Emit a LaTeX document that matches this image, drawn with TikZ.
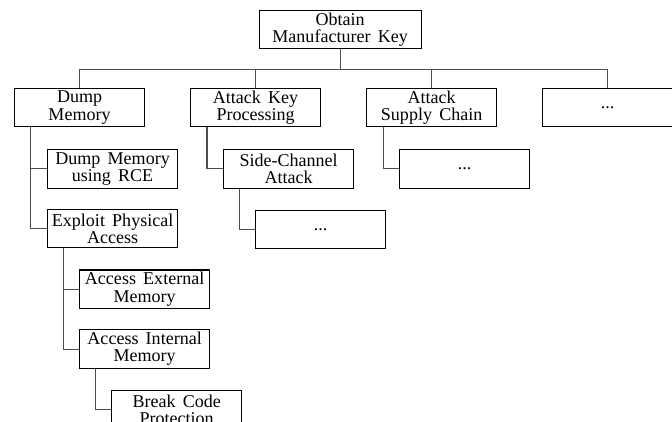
\documentclass[tikz,border=0pt]{standalone}
\usepackage{fontspec}
\setmainfont{Liberation Serif}[WordSpace=1.6]
\usepackage{tikz}
\usetikzlibrary{positioning,calc}

\begin{document}
\begin{tikzpicture}[node distance=12pt and 25.7pt,
  every node/.style={font=\fontsize{10.3}{9.8}\selectfont},
  box/.style={draw, line width=0.6pt, minimum width=74.3pt, minimum height=21.9pt, inner sep=1pt, align=center},
  link/.style={draw=black!70, line width=0.6pt}]
  % top goal and first level
  \node[box] (dump) {Dump\\Memory};
  \node[box, right=of dump] (akp) {Attack Key\\Processing};
  \node[box, right=of akp] (supply) {Attack\\Supply Chain};
  \node[box, right=of supply] (more) {...};
  \node[box, minimum width=92.6pt, above=22pt of $(akp.north)!0.5!(supply.north)$, xshift=-2pt] (root) {Obtain\\Manufacturer Key};
  \foreach \n in {dump,akp,supply,more}
    \draw[link] (root.south) -- ++(0,-11.4pt) -| (\n.north);
  % dump memory branch
  \node[box, below=12.6pt of dump.south west, anchor=north west, xshift=18.9pt] (rce) {Dump Memory\\using RCE};
  \node[box, below=11.7pt of rce] (phys) {Exploit Physical\\Access};
  \node[box, below=12pt of phys.south west, anchor=north west, xshift=18.3pt] (ext) {Access External\\Memory};
  \node[box, below=11.7pt of ext] (int) {Access Internal\\Memory};
  \node[box, below=12.3pt of int.south west, anchor=north west, xshift=18.3pt] (code) {Break Code\\Protection};
  \draw[link] ($(dump.south west)+(9.7pt,0)$) |- (rce.west);
  \draw[link] ($(dump.south west)+(9.7pt,0)$) |- (phys.west);
  \draw[link] ($(phys.south west)+(9.2pt,0)$) |- (ext.west);
  \draw[link] ($(phys.south west)+(9.2pt,0)$) |- (int.west);
  \draw[link] ($(int.south west)+(9.2pt,0)$) |- (code.west);
  % key processing branch
  \node[box, below=12.6pt of akp.south west, anchor=north west, xshift=18.9pt] (side) {Side-Channel\\Attack};
  \node[box, below=12pt of side.south west, anchor=north west, xshift=18.3pt] (sidemore) {...};
  \draw[link] ($(akp.south west)+(9.7pt,0)$) |- (side.west);
  \draw[link] ($(side.south west)+(9.2pt,0)$) |- (sidemore.west);
  % supply chain branch
  \node[box, below=12.6pt of supply.south west, anchor=north west, xshift=18.9pt] (supplymore) {...};
  \draw[link] ($(supply.south west)+(9.7pt,0)$) |- (supplymore.west);
  \pgfresetboundingbox
  \path[use as bounding box] ($(dump.west |- root.north)+(-8pt,5.7pt)$) rectangle ++(384pt,-240.6pt);
\end{tikzpicture}
\end{document}
